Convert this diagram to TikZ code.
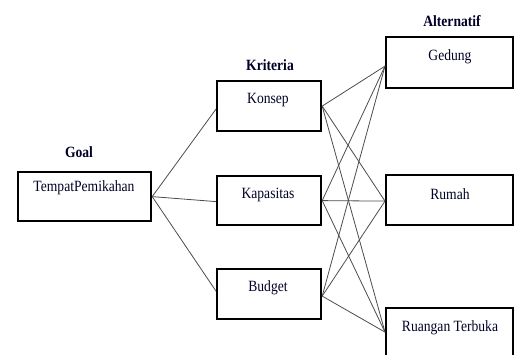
\documentclass[tikz,border=0pt]{standalone}
\usepackage{fontspec}
\setmainfont{Liberation Serif}
\newfontfamily\tnr{Liberation Serif}
\begin{document}
\begin{tikzpicture}[x=1pt,y=-1pt,
  boxL/.style={draw=black,line width=2.2pt,rectangle,inner sep=0pt,anchor=north west},
  txt/.style={font=\tnr\fontsize{13.6}{15}\selectfont,text=black!85!blue,inner sep=0pt,yscale=1.15},
  head/.style={font=\tnr\fontsize{13.6}{15}\selectfont\bfseries,text=black!85!blue,inner sep=0pt,yscale=1.15},
  conn/.style={draw=black!70,line width=0.8pt}]
\useasboundingbox (0,0) rectangle (514,354);
\clip (0,0) rectangle (514,354);
% boxes
\node[boxL,minimum width=133pt,minimum height=49pt] (goal) at (17,171) {};
\node[boxL,minimum width=104pt,minimum height=50pt] (konsep) at (216,80) {};
\node[boxL,minimum width=104pt,minimum height=49pt] (kapasitas) at (216,175) {};
\node[boxL,minimum width=104pt,minimum height=50pt] (budget) at (216,268) {};
\node[boxL,minimum width=127pt,minimum height=51pt] (gedung) at (385,36) {};
\node[boxL,minimum width=127pt,minimum height=50pt] (rumah) at (385,174) {};
\node[boxL,minimum width=127pt,minimum height=50pt] (ruangan) at (385,307) {};
% texts
\node[txt] (goalT) at (84,188) {TempatPemikahan};
\node[txt] (konsepT) at (268,100) {Konsep};
\node[txt] (kapasitasT) at (268,195) {Kapasitas};
\node[txt] (budgetT) at (268,288) {Budget};
\node[txt] (gedungT) at (450,57) {Gedung};
\node[txt] (rumahT) at (450,194) {Rumah};
\node[txt] (ruanganT) at (450,328) {Ruangan Terbuka};
% headings
\node[head] (goalH) at (79,152) {Goal};
\node[head] (kritH) at (270,65) {Kriteria};
\node[head] (altH) at (452,21) {Alternatif};
% connector anchors
\coordinate (gE) at (goal.east);
\coordinate (kW) at ([yshift=-3pt]konsep.west);
\coordinate (pW) at ([yshift=-1pt]kapasitas.west);
\coordinate (bW) at ([yshift=3pt]budget.west);
\coordinate (kE) at (konsep.east);
\coordinate (pE) at (kapasitas.east);
\coordinate (bE) at ([yshift=-2pt]budget.east);
\coordinate (gdW) at ([yshift=-3.5pt]gedung.west);
\coordinate (rmW) at ([yshift=-1pt]rumah.west);
\coordinate (rtW) at ([yshift=1pt]ruangan.west);
\draw[conn] (gE) -- (kW);
\draw[conn] (gE) -- (pW);
\draw[conn] (gE) -- (bW);
\foreach \a in {kE,pE,bE}{
  \foreach \b in {gdW,rmW,rtW}{
    \draw[conn] (\a) -- (\b);
  }
}
\end{tikzpicture}
\end{document}
